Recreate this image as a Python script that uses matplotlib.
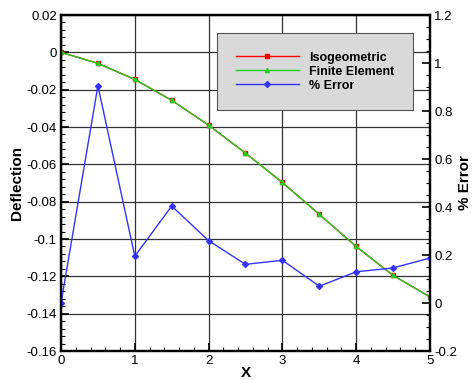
import matplotlib
matplotlib.use("Agg")
import matplotlib.pyplot as plt
from matplotlib.ticker import AutoMinorLocator, FuncFormatter

plt.rcParams['font.family'] = ['Liberation Sans', 'DejaVu Sans']
plt.rcParams['axes.unicode_minus'] = False

x = [0, 0.5, 1, 1.5, 2, 2.5, 3, 3.5, 4, 4.5, 5]
iga = [0, -0.0059, -0.0145, -0.0257, -0.039, -0.054, -0.0697, -0.0868, -0.104, -0.1195, -0.131]
fem = [0, -0.0059, -0.0145, -0.0257, -0.039, -0.054, -0.0697, -0.0868, -0.104, -0.1195, -0.131]
err = [0, 0.905, 0.195, 0.404, 0.26, 0.161, 0.178, 0.07, 0.13, 0.146, 0.1875]


def fmt(v, pos):
    return f"{v:g}"


fig = plt.figure(figsize=(4.73, 3.8), dpi=100)
ax = fig.add_axes([0.129, 0.0763, 0.78, 0.8842])
ax2 = ax.twinx()

l1, = ax.plot(x, iga, color='red', lw=1, marker='s', ms=3.5, label='Isogeometric')
l2, = ax.plot(x, fem, color='#22cc22', lw=1, marker='^', ms=3, label='Finite Element')
l3, = ax2.plot(x, err, color='#3333ff', lw=1, marker='D', ms=3, label='% Error')

ax.set_xlim(0, 5)
ax.set_ylim(-0.16, 0.02)
ax2.set_ylim(-0.2, 1.2)
ax.set_xticks(range(6))
ax.set_yticks([0.02, 0, -0.02, -0.04, -0.06, -0.08, -0.1, -0.12, -0.14, -0.16])
ax2.set_yticks([-0.2, 0, 0.2, 0.4, 0.6, 0.8, 1, 1.2])
ax.yaxis.set_major_formatter(FuncFormatter(fmt))
ax2.yaxis.set_major_formatter(FuncFormatter(fmt))
ax.xaxis.set_minor_locator(AutoMinorLocator(5))
ax.yaxis.set_minor_locator(AutoMinorLocator(5))
ax2.yaxis.set_minor_locator(AutoMinorLocator(4))

ax.grid(True, which='major', color='#333333', lw=0.9)
ax.set_axisbelow(True)
for a in (ax, ax2):
    a.tick_params(which='major', direction='in', length=6, width=1.2, labelsize=9.5, pad=3)
    a.tick_params(which='minor', direction='in', length=3, width=0.8)
    for s in a.spines.values():
        s.set_linewidth(1.6)
ax.tick_params(axis='y', which='both', right=False)
ax.tick_params(axis='x', which='both', top=False)

ax.set_xlabel('X', fontsize=11, fontweight='bold', labelpad=-1)
ax.set_ylabel('Deflection', fontsize=11, fontweight='bold', labelpad=2)
ax2.set_ylabel('% Error', fontsize=11, fontweight='bold', labelpad=1)

leg = ax2.legend(handles=[l1, l2, l3], loc='upper right', bbox_to_anchor=(0.97, 0.965),
                 prop={'size': 9, 'weight': 'bold'}, frameon=True, fancybox=False,
                 facecolor='#d9d9d9', edgecolor='#555555', framealpha=1,
                 handlelength=5, borderpad=1.5, labelspacing=0.15, handletextpad=0.8)
leg.get_frame().set_linewidth(0.8)

fig.savefig('out.png', dpi=100)
